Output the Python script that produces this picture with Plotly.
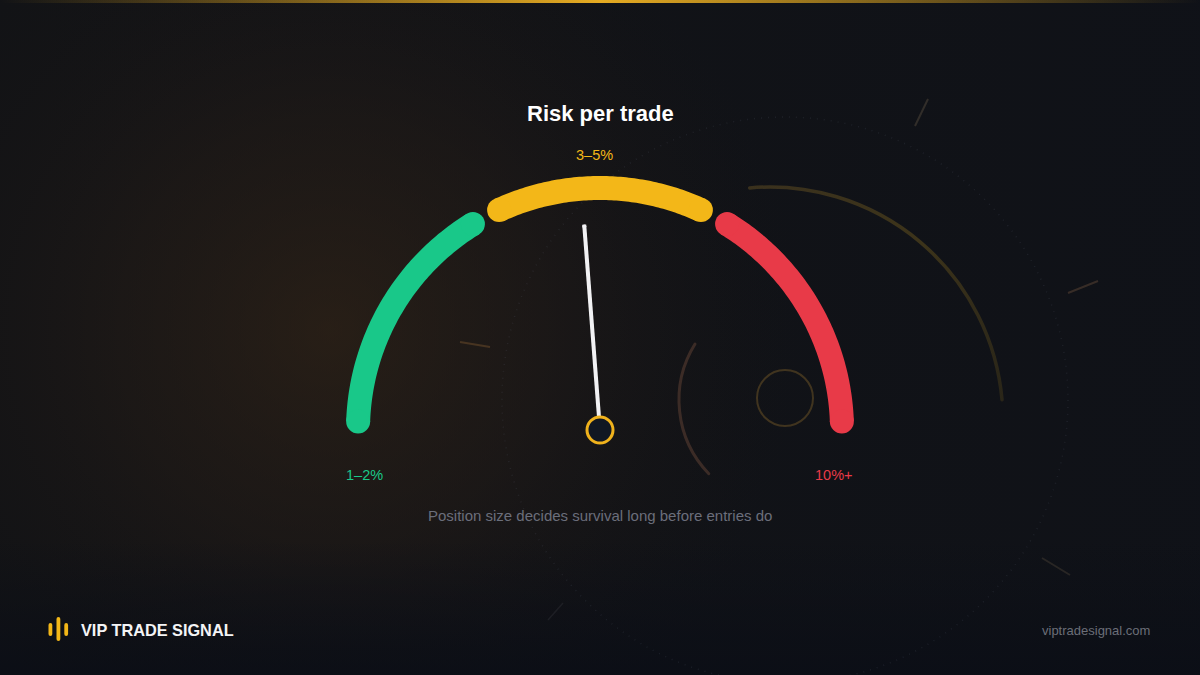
import base64
import numpy as np
import plotly.graph_objects as go

# ---------------- data ----------------
segment_labels = ["1–2%", "3–5%", "10%+"]
segment_start = [0, 36, 68]      # gauge units (0..100)
segment_end = [32, 64, 100]
needle_value = 47.5
title_text = "Risk per trade"
subtitle_text = "Position size decides survival long before entries do"
brand_text = "VIP TRADE SIGNAL"
url_text = "viptradesignal.com"

# ---------------- style ----------------
W, H = 1200, 675
seg_colors = ["#19c889", "#f3b718", "#e83a48"]
ARC_R = 242
ARC_W = 24
CX, CY = 600, 430  # gauge centre in px


def theta_of(v):
    # gauge scale 0..100 -> angle 178..2 degrees
    return 178 - np.asarray(v, dtype=float) * 1.76


def px(x, y):
    return x / W, 1 - y / H


# ---------------- background (decoration only) ----------------
svg = f"""<svg xmlns='http://www.w3.org/2000/svg' width='{W}' height='{H}' viewBox='0 0 {W} {H}'>
<defs>
 <radialGradient id='glow' cx='330' cy='330' r='470' gradientUnits='userSpaceOnUse'>
  <stop offset='0' stop-color='#3a2816' stop-opacity='0.55'/>
  <stop offset='0.45' stop-color='#2e2117' stop-opacity='0.35'/>
  <stop offset='1' stop-color='#1a1512' stop-opacity='0'/>
 </radialGradient>
 <linearGradient id='bot' x1='0' y1='0' x2='0' y2='1'>
  <stop offset='0' stop-color='#0b0e16' stop-opacity='0'/>
  <stop offset='1' stop-color='#0b0e16' stop-opacity='0.9'/>
 </linearGradient>
 <linearGradient id='top' x1='0' y1='0' x2='1' y2='0'>
  <stop offset='0' stop-color='#e0a820' stop-opacity='0'/>
  <stop offset='0.5' stop-color='#e6ab22' stop-opacity='1'/>
  <stop offset='1' stop-color='#e0a820' stop-opacity='0'/>
 </linearGradient>
 <linearGradient id='right' x1='0' y1='0' x2='1' y2='0'>
  <stop offset='0' stop-color='#0f1219' stop-opacity='0'/>
  <stop offset='1' stop-color='#0e1119' stop-opacity='0.6'/>
 </linearGradient>
 <linearGradient id='goldarc' x1='750' y1='190' x2='1000' y2='400' gradientUnits='userSpaceOnUse'>
  <stop offset='0' stop-color='#5c4a22' stop-opacity='0.55'/>
  <stop offset='0.5' stop-color='#5a4a1c' stop-opacity='0.6'/>
  <stop offset='1' stop-color='#4a3e1a' stop-opacity='0.45'/>
 </linearGradient>
</defs>
<rect width='{W}' height='{H}' fill='#121316'/>
<rect width='{W}' height='{H}' fill='url(#right)'/>
<rect width='{W}' height='{H}' fill='url(#glow)'/>
<rect y='540' width='{W}' height='135' fill='url(#bot)'/>
<rect width='{W}' height='3' fill='url(#top)'/>
<circle cx='785' cy='400' r='283' fill='none' stroke='#7a8296' stroke-opacity='0.14' stroke-width='1.5' stroke-dasharray='1 6'/>
<path d='M 749.7 187.9 A 233 233 0 0 1 1002 399.7' fill='none' stroke='url(#goldarc)' stroke-width='3.5' stroke-linecap='round'/>
<circle cx='785' cy='398' r='28' fill='none' stroke='#5a4624' stroke-opacity='0.65' stroke-width='2'/>
<path d='M 695 344 A 106 106 0 0 0 708.8 473.7' fill='none' stroke='#46322a' stroke-opacity='0.8' stroke-width='3' stroke-linecap='round'/>
<line x1='915' y1='126' x2='928' y2='99' stroke='#5a5040' stroke-opacity='0.45' stroke-width='2'/>
<line x1='1068' y1='293' x2='1098' y2='281' stroke='#5e4636' stroke-opacity='0.5' stroke-width='2'/>
<line x1='1042' y1='558' x2='1070' y2='575' stroke='#4a4036' stroke-opacity='0.45' stroke-width='2'/>
<line x1='460' y1='342' x2='490' y2='347' stroke='#6a4a2a' stroke-opacity='0.55' stroke-width='2'/>
<line x1='548' y1='620' x2='563' y2='603' stroke='#3a3a40' stroke-opacity='0.35' stroke-width='1.5'/>
<rect x='48.5' y='623' width='3.8' height='13' rx='1.9' fill='#f3b718'/>
<rect x='56.5' y='617' width='3.8' height='24' rx='1.9' fill='#f3b718'/>
<rect x='64.3' y='623' width='3.8' height='13' rx='1.9' fill='#f3b718'/>
</svg>"""
bg_src = "data:image/svg+xml;base64," + base64.b64encode(svg.encode()).decode()

fig = go.Figure()

# ---------------- gauge arcs ----------------
for s, e, c in zip(segment_start, segment_end, seg_colors):
    vals = np.linspace(s, e, 80)
    fig.add_trace(go.Scatterpolar(
        r=[ARC_R] * len(vals), theta=theta_of(vals), mode="lines",
        line=dict(color=c, width=ARC_W), hoverinfo="skip", showlegend=False))
    fig.add_trace(go.Scatterpolar(
        r=[ARC_R, ARC_R], theta=theta_of([s, e]), mode="markers",
        marker=dict(color=c, size=ARC_W, line=dict(width=0)),
        cliponaxis=False, hoverinfo="skip", showlegend=False))

# ---------------- needle ----------------
nt = float(theta_of(needle_value))
fig.add_trace(go.Scatterpolar(
    r=[14, 206], theta=[nt, nt], mode="lines",
    line=dict(color="#f2f2f4", width=4), hoverinfo="skip", showlegend=False))
fig.add_trace(go.Scatterpolar(
    r=[204], theta=[nt], mode="markers",
    marker=dict(color="#f2f2f4", size=4, line=dict(width=0)),
    cliponaxis=False, hoverinfo="skip", showlegend=False))
fig.add_trace(go.Scatterpolar(
    r=[0], theta=[90], mode="markers",
    marker=dict(color="#111722", size=26, line=dict(color="#f0b21c", width=3)),
    cliponaxis=False, hoverinfo="skip", showlegend=False))

# ---------------- text ----------------
FONT = "Liberation Sans, Arial, Helvetica, sans-serif"
ann = []


def add_text(text, x, y, size, color, bold=False, xanchor="center"):
    ax, ay = px(x, y)
    ann.append(dict(
        text=f"<b>{text}</b>" if bold else text, x=ax, y=ay,
        xref="paper", yref="paper", xanchor=xanchor, yanchor="middle",
        showarrow=False, font=dict(family=FONT, size=size, color=color)))


add_text(title_text, 600, 113, 22, "#ffffff", bold=True)
add_text(segment_labels[1], 594, 155, 14.5, seg_colors[1])
add_text(segment_labels[0], 364, 475, 14.5, seg_colors[0])
add_text(segment_labels[2], 834, 475, 14.5, seg_colors[2])
add_text(subtitle_text, 600, 515, 15, "#6b6e7b")
add_text(brand_text, 79, 630, 16.3, "#f4f4f6", bold=True, xanchor="left")
add_text(url_text, 1152, 630, 13, "#6b6e78", xanchor="right")

fig.update_layout(
    width=W, height=H,
    margin=dict(l=0, r=0, t=0, b=0),
    paper_bgcolor="#121316", plot_bgcolor="#121316",
    showlegend=False,
    annotations=ann,
    images=[dict(source=bg_src, xref="paper", yref="paper", x=0, y=1,
                 sizex=1, sizey=1, sizing="stretch", layer="below",
                 xanchor="left", yanchor="top")],
    polar=dict(
        domain=dict(x=[0, 1], y=[(H - CY) / H, 1]),
        sector=[0, 180],
        bgcolor="rgba(0,0,0,0)",
        radialaxis=dict(visible=False, range=[0, 430]),
        angularaxis=dict(visible=False),
    ),
)

fig.write_html(
    "out.html",
    config={"displayModeBar": False, "staticPlot": True},
    post_script="document.body.style.margin='0';document.body.style.background='#121316';",
)
